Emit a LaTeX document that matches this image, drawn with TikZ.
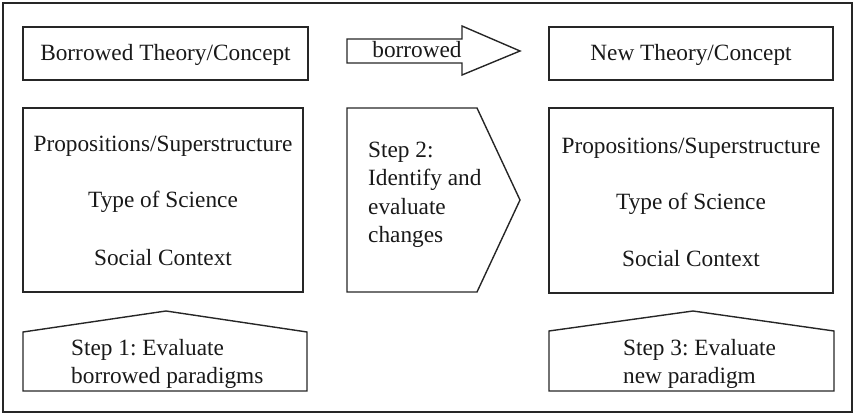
\documentclass[tikz,border=0pt]{standalone}
\usepackage{fontspec}
\setmainfont{Liberation Serif}
\frenchspacing
\begin{document}
\begin{tikzpicture}[x=1pt,y=-1pt,
  shape line/.style={draw=black!85,line width=1.4pt,line join=miter},
  label text/.style={inner sep=0pt,font=\fontsize{23.3}{28.4}\selectfont,text=black!90},
  step text/.style={label text,align=left,anchor=west}]
\useasboundingbox (0,0) rectangle (855,414);
% outer frame
\draw[shape line] (3,3) rectangle (852,412);
% title boxes
\draw[shape line] (23,27) rectangle (308,80);
\draw[shape line] (549,27) rectangle (833,80);
\node[label text] (oldtitle) at (165.5,55) {Borrowed Theory/Concept};
\node[label text] (newtitle) at (691,55) {New Theory/Concept};
% block arrow
\draw[shape line] (347,39) -- (462,39) -- (462,26) -- (520,51) -- (462,75) -- (462,63) -- (347,63) -- cycle;
\node[label text] (borrowed) at (417,50) {borrowed};
% content boxes
\draw[shape line] (23,108) rectangle (303,292);
\draw[shape line] (549,108) rectangle (833,293);
\node[label text] (oldprop) at (163,146) {Propositions/Superstructure};
\node[label text] (oldtype) at (163,202) {Type of Science};
\node[label text] (oldsoc)  at (163,258) {Social Context};
\node[label text] (newprop) at (691,148) {Propositions/Superstructure};
\node[label text] (newtype) at (691,204) {Type of Science};
\node[label text] (newsoc)  at (691,259) {Social Context};
% step 2 chevron
\draw[shape line] (347,108) -- (477,108) -- (520,200) -- (477,292) -- (347,292) -- cycle;
\node[step text] (steptwo) at (368,195) {Step 2:\\Identify and\\evaluate\\changes};
% step 1 and step 3 pentagons
\draw[shape line] (23,391) -- (23,332) -- (166,311) -- (307,332) -- (307,391) -- cycle;
\draw[shape line] (549,391) -- (549,331) -- (693,311) -- (834,331) -- (834,391) -- cycle;
\node[step text] (stepone) at (71,364) {Step 1: Evaluate\\borrowed paradigms};
\node[step text] (stepthree) at (623,364) {Step 3: Evaluate\\new paradigm};
\end{tikzpicture}
\end{document}
